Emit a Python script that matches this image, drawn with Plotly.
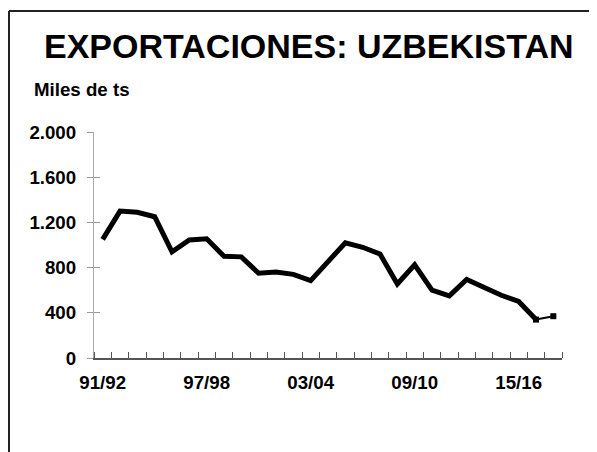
import plotly.graph_objects as go

seasons = ["91/92", "92/93", "93/94", "94/95", "95/96", "96/97", "97/98", "98/99",
           "99/00", "00/01", "01/02", "02/03", "03/04", "04/05", "05/06", "06/07",
           "07/08", "08/09", "09/10", "10/11", "11/12", "12/13", "13/14", "14/15",
           "15/16", "16/17", "17/18"]
exports = [1050, 1300, 1290, 1250, 940, 1045, 1055, 900, 895, 750, 760, 740, 685,
           850, 1020, 980, 920, 655, 825, 600, 550, 695, 620, 555, 500, 340]
proj_seasons = ["16/17", "17/18"]
proj_values = [340, 370]
label_seasons = ["91/92", "97/98", "03/04", "09/10", "15/16"]
y_ticks = [0, 400, 800, 1200, 1600, 2000]

pos = {s: i for i, s in enumerate(seasons)}
OFF = 8  # page body margin
ml, mr, mt, mb = 94 - OFF, 35, 132 - OFF, 94
W = 597 - OFF
H = 452 - OFF
pw, ph = W - ml - mr, H - mt - mb


def px_x(p):
    return (p - OFF - ml) / pw


def px_y(p):
    return (H - mb - (p - OFF)) / ph


fig = go.Figure()
fig.add_trace(go.Scatter(
    x=[pos[s] for s in seasons[:len(exports)]], y=exports, mode="lines",
    line=dict(color="black", width=5), showlegend=False, hoverinfo="skip"))
fig.add_trace(go.Scatter(
    x=[pos[s] for s in proj_seasons], y=proj_values, mode="lines+markers",
    line=dict(color="black", width=2),
    marker=dict(symbol="square", size=6, color="black"),
    showlegend=False, hoverinfo="skip"))
fig.add_trace(go.Scatter(x=[0], y=[0], yaxis="y2", mode="markers",
                         marker=dict(opacity=0), showlegend=False, hoverinfo="skip"))

font_family = "Liberation Sans, Arial, sans-serif"
fs = 18.7
fig.update_layout(
    width=W, height=H,
    margin=dict(l=ml, r=mr, t=mt, b=mb),
    paper_bgcolor="white", plot_bgcolor="white",
    separators=",.",
    font=dict(family=font_family, size=fs, color="black", weight="bold"),
    xaxis=dict(
        range=[-0.5, len(seasons) - 0.5],
        tickmode="array",
        tickvals=[pos[s] for s in label_seasons],
        ticktext=label_seasons,
        ticks="", showgrid=False, zeroline=False,
        showline=True, linecolor="#555555", linewidth=1.5,
        ticklabelstandoff=7,
        tickfont=dict(size=fs, family=font_family, weight="bold"),
        minor=dict(tickvals=[i - 0.5 for i in range(len(seasons) + 1)],
                   ticks="inside", ticklen=6, tickcolor="#555555", tickwidth=1.2,
                   showgrid=False),
    ),
    yaxis=dict(
        range=[0, 2000], tickmode="array", tickvals=y_ticks,
        separatethousands=True, tickformat=",d",
        ticks="outside", ticklen=6, tickcolor="#999999", tickwidth=1,
        showline=True, linecolor="#aaaaaa", linewidth=1.2,
        showgrid=False, zeroline=False,
        ticklabelstandoff=7,
        tickfont=dict(size=fs, family=font_family, weight="bold"),
    ),
    yaxis2=dict(
        range=[0, 2000], overlaying="y", tickmode="array", tickvals=y_ticks,
        ticks="inside", ticklen=6, tickcolor="#999999", tickwidth=1,
        showticklabels=False, showline=False, showgrid=False, zeroline=False,
    ),
    annotations=[
        dict(text="EXPORTACIONES: UZBEKISTAN", xref="paper", yref="paper",
             x=px_x(308.5), y=px_y(46), xanchor="center", yanchor="middle",
             showarrow=False,
             font=dict(size=34, family=font_family, weight="bold", color="black")),
        dict(text="Miles de ts", xref="paper", yref="paper",
             x=px_x(32), y=px_y(89), xanchor="left", yanchor="middle",
             showarrow=False,
             font=dict(size=fs, family=font_family, weight="bold", color="black")),
    ],
    shapes=[
        dict(type="line", xref="paper", yref="paper",
             x0=px_x(9), x1=px_x(620), y0=px_y(11), y1=px_y(11),
             line=dict(color="#222222", width=2)),
        dict(type="line", xref="paper", yref="paper",
             x0=px_x(9), x1=px_x(9), y0=px_y(11), y1=px_y(470),
             line=dict(color="#222222", width=2)),
    ],
)

fig.write_html("out.html")
